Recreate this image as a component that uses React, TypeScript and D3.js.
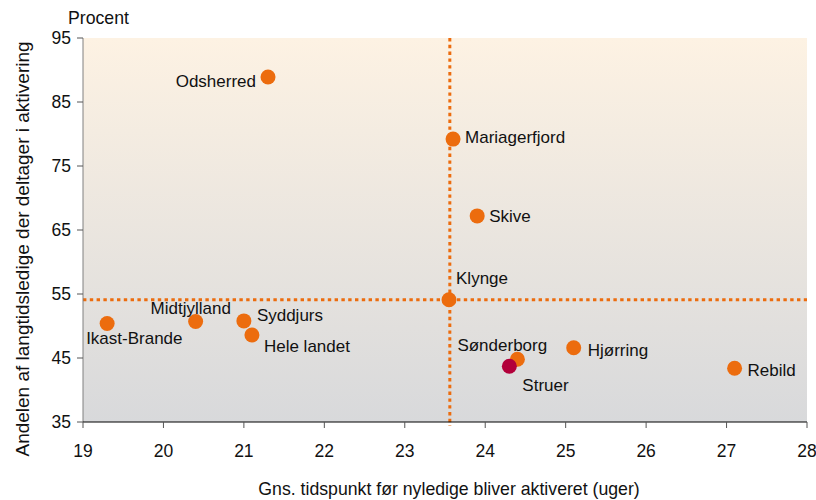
import React from "react";
import * as d3 from "d3";

const names = ["Odsherred", "Mariagerfjord", "Skive", "Klynge", "Ikast-Brande", "Midtjylland", "Syddjurs", "Hele landet", "Sønderborg", "Struer", "Hjørring", "Rebild"];
const weeks = [21.3, 23.6, 23.9, 23.55, 19.3, 20.4, 21.0, 21.1, 24.4, 24.3, 25.1, 27.1];
const shares = [88.9, 79.2, 67.2, 54.1, 50.4, 50.7, 50.8, 48.6, 44.8, 43.7, 46.6, 43.4];
const highlighted = ["Struer"];
const xTicks = [19, 20, 21, 22, 23, 24, 25, 26, 27, 28];
const yTicks = [35, 45, 55, 65, 75, 85, 95];
const refX = 23.56;
const refY = 54.1;

// label layout: [dx, dy(center), anchor]
const labelLayout: [number, number, string][] = [
  [-12, 4, "end"],
  [12, -2, "start"],
  [12, 0, "start"],
  [7, -22, "start"],
  [-21, 15, "start"],
  [-45, -13, "start"],
  [13, -6, "start"],
  [12, 11, "start"],
  [-60, -14, "start"],
  [13, 19, "start"],
  [14, 2, "start"],
  [13, 2, "start"],
];

export default function App() {
  const W = 816, H = 500;
  const left = 83, right = 807, top = 38, bottom = 422;
  const x = d3.scaleLinear().domain([19, 28]).range([left, right]);
  const y = d3.scaleLinear().domain([35, 95]).range([bottom, top]);
  const font = "Liberation Sans, Arial, sans-serif";
  const orange = "#EC6C0E";
  const red = "#B2003A";
  const order = names.map((_, i) => i).sort((a, b) => (highlighted.includes(names[a]) ? 1 : 0) - (highlighted.includes(names[b]) ? 1 : 0));
  return (
    <svg width={W} height={H} style={{ position: "absolute", left: 0, top: 0 }} fontFamily={font}>
      <defs>
        <linearGradient id="bg" x1="0" y1="0" x2="0" y2="1">
          <stop offset="0" stopColor="#FDF2E3" />
          <stop offset="1" stopColor="#D8D9DB" />
        </linearGradient>
      </defs>
      <rect x={left} y={top} width={right - left} height={bottom - top} fill="url(#bg)" />
      {/* reference lines */}
      <line x1={left} x2={right} y1={y(refY)} y2={y(refY)} stroke={orange} strokeWidth={3} strokeDasharray="3.4 3.4" />
      <line x1={x(refX)} x2={x(refX)} y1={top} y2={bottom + 4} stroke={orange} strokeWidth={3} strokeDasharray="3.4 3.4" />
      {/* axes */}
      <line x1={left} x2={left} y1={top} y2={bottom} stroke="#808080" strokeWidth={1} />
      <line x1={left} x2={right} y1={bottom} y2={bottom} stroke="#000" strokeWidth={1} />
      {yTicks.map((t) => (
        <g key={"y" + t}>
          <line x1={left - 6} x2={left} y1={y(t)} y2={y(t)} stroke="#555" />
          <text x={left - 12} y={y(t)} dy="0.35em" textAnchor="end" fontSize={17.5} fill="#111">{t}</text>
        </g>
      ))}
      {xTicks.map((t) => (
        <g key={"x" + t}>
          <line x1={x(t)} x2={x(t)} y1={bottom} y2={bottom + 6} stroke="#555" />
          <text x={x(t)} y={bottom + 29} dy="0.35em" textAnchor="middle" fontSize={17.5} fill="#111">{t}</text>
        </g>
      ))}
      <text x={68} y={18} dy="0.35em" fontSize={17.7} fill="#111">Procent</text>
      <text x={449} y={489} dy="0.35em" textAnchor="middle" fontSize={17.7} fill="#111">Gns. tidspunkt før nyledige bliver aktiveret (uger)</text>
      <text transform={`translate(22,249) rotate(-90)`} dy="0.35em" textAnchor="middle" fontSize={19} fill="#111">Andelen af langtidsledige der deltager i aktivering</text>
      {/* points */}
      {order.map((i) => (
        <circle key={"p" + i} cx={x(weeks[i])} cy={y(shares[i])} r={7.5} fill={highlighted.includes(names[i]) ? red : orange} />
      ))}
      {names.map((n, i) => {
        const [dx, dy, anchor] = labelLayout[i];
        return (
          <text key={"l" + i} x={x(weeks[i]) + dx} y={y(shares[i]) + dy} dy="0.35em" textAnchor={anchor as any} fontSize={17} fill="#111">{n}</text>
        );
      })}
    </svg>
  );
}
